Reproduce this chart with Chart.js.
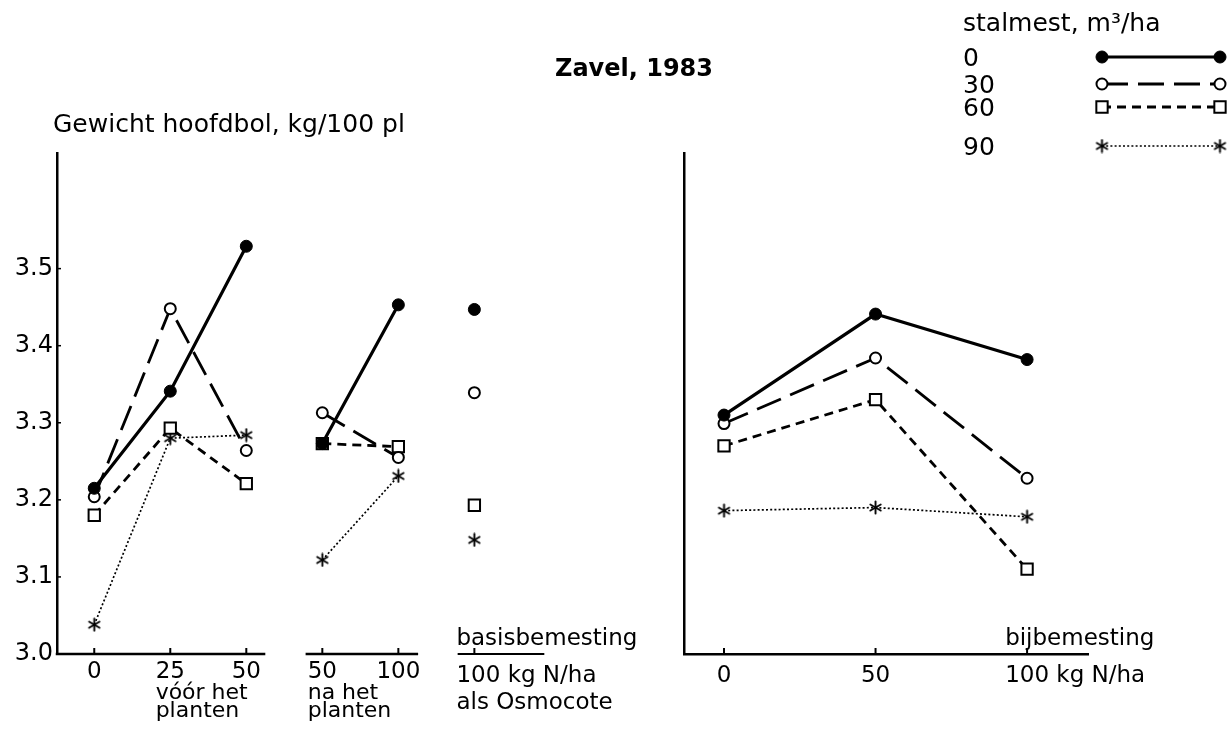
<!DOCTYPE html>
<html>
<head>
<meta charset="utf-8">
<title>Zavel, 1983</title>
<script src="https://cdn.jsdelivr.net/npm/chart.js@4.4.1/dist/chart.umd.min.js"></script>
<style>
  html, body { margin: 0; padding: 0; background: #fff; }
  #wrap { position: relative; width: 1228px; height: 740px; }
  #wrap canvas { position: absolute; left: 0; top: 0; }
</style>
</head>
<body>
<div id="wrap">
  <canvas id="links" width="1228" height="740"></canvas>
  <canvas id="rechts" width="1228" height="740"></canvas>
</div>
<script>
// stalmest levels, m3/ha
const stalmest = ['0', '30', '60', '90'];
// N levels, kg N/ha
const voorN = ['0', '25', '50'];   // vóór het planten
const naN = ['50', '100'];         // na het planten
const osmoN = ['100'];             // basisbemesting als Osmocote
const bijN = [0, 50, 100];         // bijbemesting
const yTicks = [3.0, 3.1, 3.2, 3.3, 3.4, 3.5];

// Gewicht hoofdbol, kg/100 pl
const voor0 = [3.215, 3.341, 3.529];
const voor30 = [3.204, 3.448, 3.264];
const voor60 = [3.180, 3.293, 3.221];
const voor90 = [3.038, 3.280, 3.284];
const na0 = [3.273, 3.453];
const na30 = [3.313, 3.255];
const na60 = [3.273, 3.269];
const na90 = [3.122, 3.231];
const osmo = [3.447, 3.339, 3.193, 3.148];   // one value per stalmest level
const bij0 = [3.310, 3.441, 3.382];
const bij30 = [3.299, 3.384, 3.228];
const bij60 = [3.270, 3.330, 3.110];
const bij90 = [3.186, 3.190, 3.178];

const voor = [voor0, voor30, voor60, voor90];
const na = [na0, na30, na60, na90];
const bij = [bij0, bij30, bij60, bij90];

const FONT = 'DejaVu Sans';
Chart.defaults.font.family = FONT;
Chart.defaults.color = '#000';

// six-armed asterisk marker
function makeStar() {
  const c = document.createElement('canvas');
  c.width = c.height = 15;
  const g = c.getContext('2d');
  g.strokeStyle = '#000';
  g.lineWidth = 1.9;
  g.lineCap = 'round';
  const m = 7.5, r = 6;
  for (const a of [90, 30, -30]) {
    const dx = r * Math.cos(a * Math.PI / 180), dy = r * Math.sin(a * Math.PI / 180);
    g.beginPath(); g.moveTo(m - dx, m - dy); g.lineTo(m + dx, m + dy); g.stroke();
  }
  return c;
}
const STAR = makeStar();

const looks = [
  { pointStyle: 'circle', pointRadius: 6, pointBackgroundColor: '#000', pointBorderWidth: 1, borderWidth: 3.2, borderDash: [] },
  { pointStyle: 'circle', pointRadius: 5.5, pointBackgroundColor: '#fff', pointBorderWidth: 2, borderWidth: 2.8, borderDash: [26, 10] },
  { pointStyle: 'rect', pointRadius: 8, pointBackgroundColor: '#fff', pointBorderWidth: 2, borderWidth: 2.8, borderDash: [9, 6] },
  { pointStyle: STAR, pointRadius: 7, pointBackgroundColor: '#000', pointBorderWidth: 0, borderWidth: 1.7, borderDash: [2, 2.2] }
];

// positions of the groups on the left panel's x scale
const slotsVoor = voorN.map((_, k) => k);
const slotsNa = naN.map((_, k) => voorN.length + k);
const slotOsmo = voorN.length + naN.length;

function lineStyle(i) {
  const l = looks[i];
  return {
    label: stalmest[i],
    borderColor: '#000',
    pointBorderColor: '#000',
    borderWidth: l.borderWidth,
    borderDash: l.borderDash,
    pointStyle: l.pointStyle,
    pointRadius: l.pointRadius,
    pointHoverRadius: l.pointRadius,
    pointBackgroundColor: l.pointBackgroundColor,
    pointBorderWidth: l.pointBorderWidth,
    spanGaps: false,
    tension: 0,
    fill: false
  };
}

const leftSets = stalmest.map((_, i) => Object.assign(lineStyle(i), {
  data: [
    ...voor[i].map((y, k) => ({ x: slotsVoor[k], y })),
    { x: slotsVoor[slotsVoor.length - 1] + 0.5, y: null },
    ...na[i].map((y, k) => ({ x: slotsNa[k], y })),
    { x: slotsNa[slotsNa.length - 1] + 0.5, y: null },
    { x: slotOsmo, y: osmo[i] }
  ]
}));

const rightSets = stalmest.map((_, i) => Object.assign(lineStyle(i), {
  data: bij[i].map((y, k) => ({ x: bijN[k], y }))
}));

const AXIS_BOTTOM = 654;
const AXIS_W = 2.5;

function txt(ctx, s, x, y, size, align, weight) {
  ctx.font = (weight ? weight + ' ' : '') + size + 'px "' + FONT + '"';
  ctx.textAlign = align || 'left';
  ctx.textBaseline = 'alphabetic';
  ctx.fillStyle = '#000';
  ctx.fillText(s, x, y);
}
function width(ctx, s, size) {
  ctx.font = size + 'px "' + FONT + '"';
  return ctx.measureText(s).width;
}
function hline(ctx, a, b, y, w) {
  ctx.lineWidth = w; ctx.setLineDash([]);
  ctx.beginPath(); ctx.moveTo(a, y); ctx.lineTo(b, y); ctx.stroke();
}
function upTick(ctx, x, y) {
  ctx.lineWidth = 2; ctx.setLineDash([]);
  ctx.beginPath(); ctx.moveTo(x, y); ctx.lineTo(x, y - 6); ctx.stroke();
}

// axis pieces, tick labels and captions of the left panel
const leftDecor = {
  id: 'leftDecor',
  afterDraw(chart) {
    const ctx = chart.ctx, xs = chart.scales.x, ys = chart.scales.y;
    const y0 = ys.getPixelForValue(3.0);
    const px = v => xs.getPixelForValue(v);
    ctx.save();
    ctx.strokeStyle = '#000';
    hline(ctx, chart.chartArea.left - AXIS_W / 2, px(slotsVoor[slotsVoor.length - 1] + 0.25), y0, AXIS_W);
    hline(ctx, px(slotsNa[0] - 0.22), px(slotsNa[slotsNa.length - 1] + 0.26), y0, AXIS_W);
    hline(ctx, px(slotOsmo - 0.22), px(slotOsmo + 0.92), y0, 2);
    [...slotsVoor, ...slotsNa, slotOsmo].forEach(s => upTick(ctx, px(s), y0));
    // small inward ticks on the y axis
    ctx.lineWidth = 1.5;
    yTicks.slice(1).forEach(v => {
      const y = ys.getPixelForValue(v);
      ctx.beginPath(); ctx.moveTo(chart.chartArea.left, y); ctx.lineTo(chart.chartArea.left + 4, y); ctx.stroke();
    });

    const S = 23, C = 22;
    voorN.forEach((l, k) => txt(ctx, l, px(slotsVoor[k]), 678, S, 'center'));
    naN.forEach((l, k) => txt(ctx, l, px(slotsNa[k]), 678, S, 'center'));
    const c1 = px(slotsVoor[1]) - width(ctx, voorN[1], S) / 2;
    txt(ctx, 'vóór het', c1, 699, C);
    txt(ctx, 'planten', c1, 717, C);
    const c2 = px(slotsNa[0]) - width(ctx, naN[0], S) / 2;
    txt(ctx, 'na het', c2, 699, C);
    txt(ctx, 'planten', c2, 717, C);
    const c3 = px(slotOsmo) - width(ctx, osmoN[0], S) / 2 + 4;
    txt(ctx, 'basisbemesting', c3, 645, S);
    txt(ctx, osmoN[0] + ' kg N/ha', c3, 682, S);
    txt(ctx, 'als Osmocote', c3, 709, S);

    txt(ctx, 'Gewicht hoofdbol, kg/100 pl', 53, 132, 25);
    ctx.restore();
  }
};

// right panel labels, title and key
const rightDecor = {
  id: 'rightDecor',
  afterDraw(chart) {
    const ctx = chart.ctx, xs = chart.scales.x, ys = chart.scales.y;
    const y0 = ys.getPixelForValue(3.0);
    const px = v => xs.getPixelForValue(v);
    ctx.save();
    ctx.strokeStyle = '#000';
    bijN.forEach(v => upTick(ctx, px(v), y0));
    const S = 23;
    txt(ctx, String(bijN[0]), px(bijN[0]), 682, S, 'center');
    txt(ctx, String(bijN[1]), px(bijN[1]), 682, S, 'center');
    const c = px(bijN[2]) - width(ctx, String(bijN[2]), S) / 2;
    txt(ctx, bijN[2] + ' kg N/ha', c, 682, S);
    txt(ctx, 'bijbemesting', c, 645, S);

    txt(ctx, 'Zavel, 1983', 555, 76, 24, 'left', 'bold');

    // key
    txt(ctx, 'stalmest, m³/ha', 963, 31, 25);
    const rows = [57, 84, 107, 146];
    const x1 = 1102, x2 = 1220;
    stalmest.forEach((s, i) => {
      const l = looks[i], y = rows[i];
      txt(ctx, s, 963, y + 9, 25);
      ctx.strokeStyle = '#000';
      ctx.lineWidth = l.borderWidth;
      ctx.setLineDash(l.borderDash);
      ctx.beginPath(); ctx.moveTo(x1, y); ctx.lineTo(x2, y); ctx.stroke();
      ctx.setLineDash([]);
      ctx.fillStyle = l.pointBackgroundColor;
      ctx.lineWidth = l.pointBorderWidth;
      [x1, x2].forEach(x => Chart.helpers.drawPoint(ctx, {
        pointStyle: l.pointStyle, radius: l.pointRadius, rotation: 0, borderWidth: l.pointBorderWidth
      }, x, y));
    });
    ctx.restore();
  }
};

const common = {
  responsive: false,
  animation: false,
  events: [],
  devicePixelRatio: 1,
  plugins: { legend: { display: false }, tooltip: { enabled: false }, title: { display: false } }
};

new Chart(document.getElementById('links'), {
  type: 'line',
  data: { datasets: leftSets },
  plugins: [leftDecor],
  options: Object.assign({}, common, {
    layout: { padding: { top: 153, left: 0, right: 670, bottom: 0 } },
    scales: {
      x: {
        type: 'linear', min: -0.49, max: 6.1,
        grid: { display: false, drawTicks: false },
        border: { display: false },
        ticks: { display: false },
        afterFit(s) { s.height = 740 - AXIS_BOTTOM; }
      },
      y: {
        type: 'linear', min: 3.0, max: 3.65,
        grid: { display: false, drawTicks: false },
        border: { display: true, color: '#000', width: AXIS_W },
        ticks: { font: { size: 24 }, color: '#000', padding: 4, callback: v => Number(v).toFixed(1) },
        afterBuildTicks(s) { s.ticks = yTicks.map(v => ({ value: v })); },
        afterFit(s) { s.width = 57; }
      }
    }
  })
});

new Chart(document.getElementById('rechts'), {
  type: 'line',
  data: { datasets: rightSets },
  plugins: [rightDecor],
  options: Object.assign({}, common, {
    layout: { padding: { top: 153, left: 684, right: 140, bottom: 0 } },
    scales: {
      x: {
        type: 'linear', min: -13.2, max: 120.1,
        grid: { display: false, drawTicks: false },
        border: { display: true, color: '#000', width: AXIS_W },
        ticks: { display: false },
        afterFit(s) { s.height = 740 - AXIS_BOTTOM; }
      },
      y: {
        type: 'linear', min: 3.0, max: 3.65,
        grid: { display: false, drawTicks: false },
        border: { display: true, color: '#000', width: AXIS_W },
        ticks: { display: false },
        afterFit(s) { s.width = 0; }
      }
    }
  })
});
</script>
</body>
</html>
